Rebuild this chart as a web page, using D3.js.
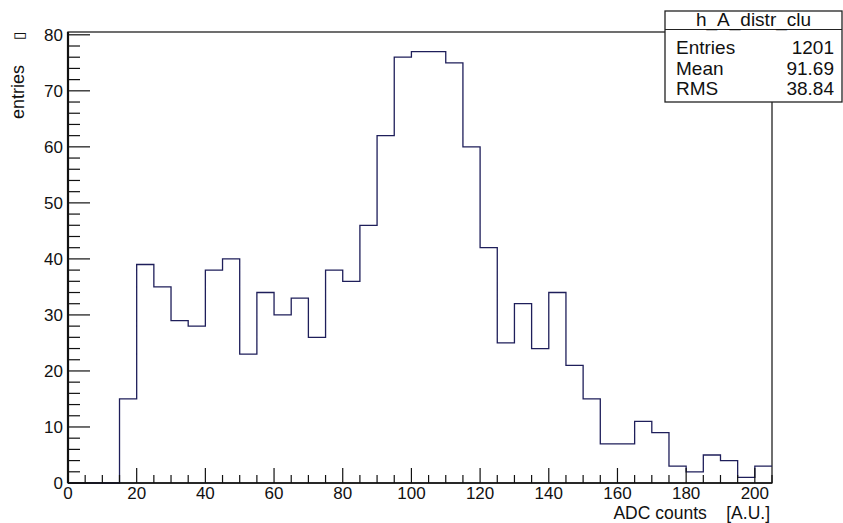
<!DOCTYPE html>
<html><head><meta charset="utf-8">
<script src="https://cdn.jsdelivr.net/npm/d3@7"></script>
<style>
html,body{margin:0;padding:0;background:#fff;}
svg{display:block;font-family:"Liberation Sans",Arial,sans-serif;}
</style></head>
<body><svg id="c" width="843" height="523"></svg>
<script>
// Histogram data: bins of width 5 from 0 to 205
const binEdgesStart = 0;
const binWidth = 5;
const binCounts = [0,0,0,15,39,35,29,28,38,40,23,34,30,33,26,38,36,46,62,76,77,77,75,60,42,25,32,24,34,21,15,7,7,11,9,3,2,5,4,1,3];
const xMajorTicks = [0,20,40,60,80,100,120,140,160,180,200];
const yMajorTicks = [0,10,20,30,40,50,60,70,80];
const statsTitle = "h_A_distr_clu";
const statsLabels = ["Entries","Mean","RMS"];
const statsValues = ["1201","91.69","38.84"];
const xTitle = "ADC counts    [A.U.]";
const yTitle = "entries";

const svg = d3.select("#c");
const L = 68, R = 772, T = 32, B = 483;
const x = d3.scaleLinear().domain([0,205]).range([L,R]);
const y = d3.scaleLinear().domain([0,80.5]).range([B,T]);

// frame
svg.append("rect").attr("x",L).attr("y",T).attr("width",R-L).attr("height",B-T)
  .attr("fill","none").attr("stroke","#222").attr("stroke-width",1.3);

// histogram step path
const pts = [];
binCounts.forEach((c,i)=>{
  const x0 = binEdgesStart + i*binWidth, x1 = x0+binWidth;
  pts.push([x(x0), y(c)]); pts.push([x(x1), y(c)]);
});
const line = d3.line();
svg.append("path").attr("d", line(pts)).attr("fill","none")
  .attr("stroke","#1e1e5a").attr("stroke-width",1.3);

// X axis ticks (inward)
const xMinor = d3.range(0,206,5);
svg.append("g").selectAll("line").data(xMinor).join("line")
  .attr("x1",d=>x(d)).attr("x2",d=>x(d))
  .attr("y1",B).attr("y2",d=>B-(d%20===0?15:8))
  .attr("stroke","#111").attr("stroke-width",1.2);
svg.append("line").attr("x1",L).attr("x2",R).attr("y1",B).attr("y2",B).attr("stroke","#111").attr("stroke-width",1.6);
svg.append("g").selectAll("text").data(xMajorTicks).join("text")
  .attr("x",d=>x(d)).attr("y",499).attr("text-anchor","middle")
  .attr("font-size",17).attr("fill","#111").text(d=>d);

// Y axis ticks (inward)
const yMinor = d3.range(0,81,2);
svg.append("g").selectAll("line").data(yMinor).join("line")
  .attr("x1",L).attr("x2",d=>L+(d%10===0?22:12))
  .attr("y1",d=>y(d)).attr("y2",d=>y(d))
  .attr("stroke","#111").attr("stroke-width",1.2);
svg.append("line").attr("x1",L).attr("x2",L).attr("y1",T).attr("y2",B).attr("stroke","#111").attr("stroke-width",2.2);
svg.append("g").selectAll("text").data(yMajorTicks).join("text")
  .attr("x",63).attr("y",d=>y(d)+6).attr("text-anchor","end")
  .attr("font-size",17).attr("fill","#111").text(d=>d);

// axis titles
svg.append("text").attr("x",770).attr("y",519).attr("text-anchor","end")
  .attr("font-size",17.5).attr("fill","#111").style("white-space","pre").text(xTitle);
const yt = svg.append("text").attr("transform","translate(24,32) rotate(-90)")
  .attr("text-anchor","end").attr("font-size",18).attr("fill","#111").style("white-space","pre");
yt.append("tspan").text(yTitle + "     ");
yt.append("tspan").attr("font-size",15).text("\u25AF");

// stats box
const sx = 665, sw = 177, sy = 11, sh = 91;
svg.append("rect").attr("x",sx).attr("y",sy).attr("width",sw).attr("height",sh)
  .attr("fill","#fff").attr("stroke","#222").attr("stroke-width",1.3);
svg.append("line").attr("x1",sx).attr("x2",sx+sw).attr("y1",29.5).attr("y2",29.5).attr("stroke","#222").attr("stroke-width",1.2);
svg.append("text").attr("x",sx+sw/2).attr("y",26).attr("text-anchor","middle")
  .attr("font-size",19).attr("fill","#111").text(statsTitle);
statsLabels.forEach((lab,i)=>{
  svg.append("text").attr("x",676).attr("y",54+i*20.7).attr("font-size",19).attr("fill","#111").text(lab);
  svg.append("text").attr("x",834).attr("y",54+i*20.7).attr("text-anchor","end").attr("font-size",19).attr("fill","#111").text(statsValues[i]);
});
</script></body></html>
